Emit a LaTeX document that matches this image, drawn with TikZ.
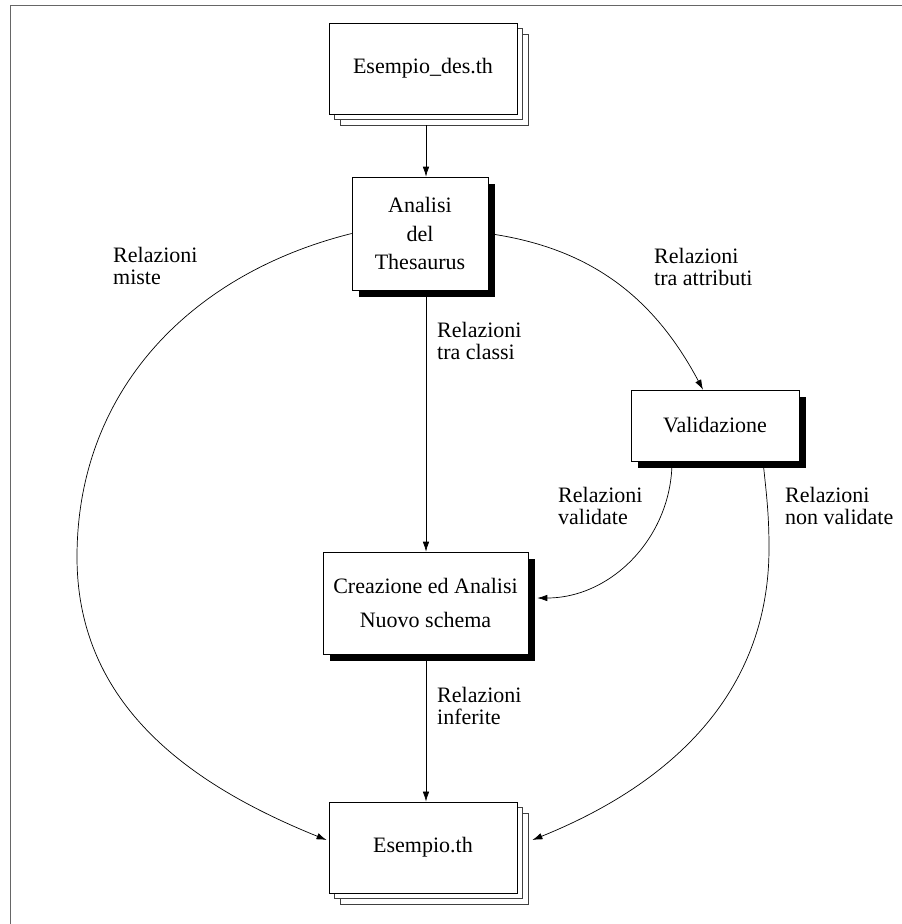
\documentclass[tikz,border=0pt]{standalone}
\usepackage{fontspec}
\setmainfont{Liberation Serif}
\usetikzlibrary{shadows,arrows.meta}

\tikzset{
  doc/.style={draw=black, fill=white, line width=0.8pt, minimum width=188pt, minimum height=91pt,
    inner sep=0pt, font=\fontsize{22}{22}\selectfont,
    double copy shadow={shadow xshift=5.5pt, shadow yshift=-5.5pt, fill=white, draw=black!75, line width=0.8pt}},
  procbox/.style={draw=black, fill=white, line width=0.6pt, inner sep=0pt, align=center,
    drop shadow={shadow xshift=6.5pt, shadow yshift=-6.5pt, fill=black, opacity=1}},
  % two-line labels: base anchor sits on the second line's baseline
  lbl/.style={anchor=base west, inner sep=0pt, align=left, font=\fontsize{22}{22}\selectfont},
  flow/.style={line width=0.7pt, -{Latex[length=10pt,width=6.5pt]}},
  frameline/.style={draw=black!60, line width=1.6pt}
}

\begin{document}
\begin{tikzpicture}[x=1pt, y=-1pt]
  \useasboundingbox (0,0) rectangle (902,924);

  % outer frame (top and left edges)
  \coordinate (ftl) at (10.5,5.5);
  \coordinate (ftr) at (902,5.5);
  \coordinate (fbl) at (10.5,924);
  \draw[frameline] (ftr) -- (ftl) -- (fbl);

  % documents
  \node[doc] (des) at (423,68.5) {Esempio\_des.th};
  \node[doc] (ex)  at (423,847.5) {Esempio.th};

  % processing boxes
  \node[procbox, minimum width=136pt, minimum height=113pt,
        font=\fontsize{22}{28.5}\selectfont] (ana) at (420,233.5) {Analisi\\del\\Thesaurus};
  \node[procbox, minimum width=168pt, minimum height=71pt,
        font=\fontsize{22}{22}\selectfont] (val) at (715,425.5) {Validazione};
  \node[procbox, minimum width=205pt, minimum height=102pt,
        font=\fontsize{22}{34}\selectfont] (cre) at (425.5,603) {Creazione ed Analisi\\Nuovo schema};

  % connectors
  \draw[flow] ([shift={(3pt,-11pt)}]des.south) -- ([xshift=6pt]ana.north);
  \draw[flow] ([shift={(6pt,-7pt)}]ana.south) -- ([xshift=0.5pt]cre.north);
  \draw[flow] ([shift={(0.5pt,-7pt)}]cre.south) -- ([xshift=3pt]ex.north);

  \coordinate (leftmost) at (77,557);
  \draw[flow] (ana.west) to[out=194,in=90] (leftmost)
                         to[out=-90,in=158] ([shift={(-2pt,7.5pt)}]ex.west);

  \draw[flow] (ana.east) to[out=-8,in=118] ([xshift=-12pt]val.north);

  \draw[flow] ([xshift=-43pt]val.south) to[out=-90,in=0] ([shift={(9pt,5pt)}]cre.east);

  \coordinate (rightmost) at (769,548);
  \draw[flow] ([xshift=48pt]val.south) to[out=-84,in=90] (rightmost)
                                       to[out=-90,in=22] ([shift={(15pt,7.5pt)}]ex.east);

  % labels
  \node[lbl] (l1) at (113,284) {Relazioni\\miste};
  \node[lbl] (l2) at (654,285) {Relazioni\\tra attributi};
  \node[lbl] (l3) at (437,359) {Relazioni\\tra classi};
  \node[lbl] (l4) at (558,524) {Relazioni\\validate};
  \node[lbl] (l5) at (785,524) {Relazioni\\non validate};
  \node[lbl] (l6) at (437,724) {Relazioni\\inferite};
\end{tikzpicture}
\end{document}
